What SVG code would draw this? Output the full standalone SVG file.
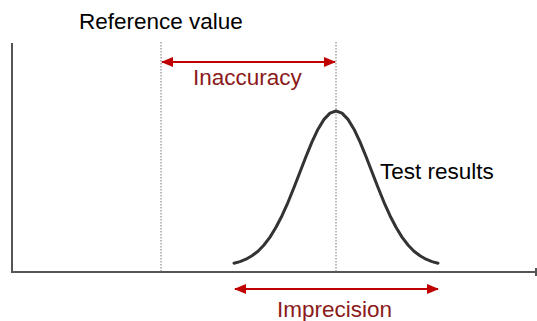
<svg xmlns="http://www.w3.org/2000/svg" width="537" height="321" viewBox="0 0 537 321">
  <style>
    .axis { stroke: #555555; stroke-width: 2; fill: none; }
    .guide { stroke: #777777; stroke-width: 1; stroke-dasharray: 1.5 1.5; fill: none; }
    .curve { stroke: #333333; stroke-width: 3; fill: none; stroke-linejoin: round; stroke-linecap: round; }
    .arrow { stroke: #C00000; stroke-width: 2; fill: none; marker-start: url(#ah); marker-end: url(#ah); }
    .lbl { font-family: "Liberation Sans", Arial, sans-serif; font-size: 22.5px; fill: #000000; }
    .red { fill: #8B1A1A; }
  </style>
  <defs>
    <marker id="ah" viewBox="0 0 12 10" refX="11" refY="5" markerWidth="12" markerHeight="10" markerUnits="userSpaceOnUse" orient="auto-start-reverse">
      <path d="M0,0 L12,5 L0,10 z" fill="#C00000"/>
    </marker>
  </defs>
  <g id="axes">
    <line class="axis" x1="12" y1="43" x2="12" y2="272"/>
    <line class="axis" x1="11" y1="272" x2="536" y2="272"/>
    <line class="axis" x1="536" y1="268" x2="536" y2="276"/>
  </g>
  <g id="guides">
    <line class="guide" x1="161" y1="42" x2="161" y2="272"/>
    <line class="guide" x1="336" y1="42" x2="336" y2="272"/>
  </g>
  <g id="test-results">
    <polyline class="curve" points="234,263.2 240,261.6 246,259.2 252,255.8 258,251.2 264,245 270,237.1 276,227.3 282,215.7 288,202.3 294,187.5 300,172 306,156.5 312,141.9 318,129.2 324,119.4 330,113.1 336,111 342,113.1 348,119.4 354,129.2 360,141.9 366,156.5 372,172 378,187.5 384,202.3 390,215.7 396,227.3 402,237.1 408,245 414,251.2 420,255.8 426,259.2 432,261.6 438,263.2"/>
    <text class="lbl" x="380" y="179">Test results</text>
  </g>
  <g id="reference-value">
    <text class="lbl" x="79" y="29">Reference value</text>
  </g>
  <g id="connectors">
    <line class="arrow" x1="162" y1="62" x2="335" y2="62"/>
    <line class="arrow" x1="235" y1="289" x2="438" y2="289"/>
  </g>
  <g id="inaccuracy">
    <text class="lbl red" x="193" y="85">Inaccuracy</text>
  </g>
  <g id="imprecision">
    <text class="lbl red" x="277" y="317">Imprecision</text>
  </g>
</svg>
